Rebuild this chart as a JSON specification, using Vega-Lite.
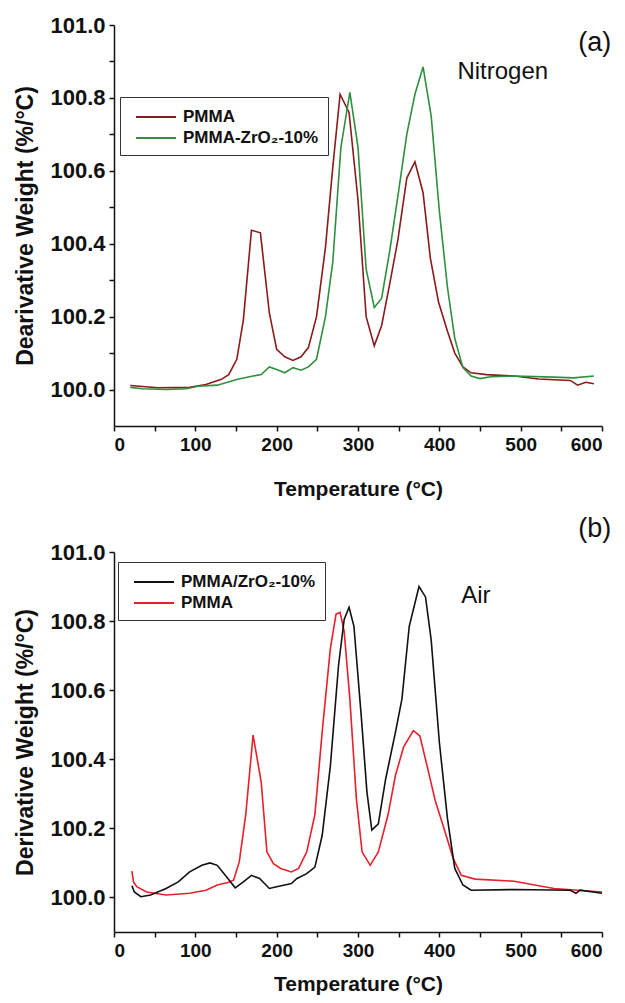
{
  "$schema": "https://vega.github.io/schema/vega-lite/v6.json",
  "padding": {"left": 14, "top": 14, "right": 5, "bottom": 2},
  "background": "white",
  "spacing": 16,
  "resolve": {"scale": {"color": "independent", "font": "independent", "size": "independent"}, "legend": {"color": "independent"}},
  "config": {
    "view": {"stroke": null},
    "font": "Liberation Sans",
    "axis": {"domainColor": "#111", "domainWidth": 1.5, "tickColor": "#111", "tickWidth": 1.5, "tickSize": 5, "labelFont": "Liberation Sans", "labelFontWeight": "bold", "labelFontSize": 19, "labelColor": "#111", "titleFont": "Liberation Sans", "titleFontWeight": "bold", "titleColor": "#111", "grid": false, "labelPadding": 4},
    "axisY": {"labelFontSize": 22},
    "legend": {"title": null, "orient": "none", "strokeColor": "#333", "fillColor": "white", "padding": 9, "symbolType": "M-0.4,0H3.6", "symbolSize": 400, "symbolStrokeWidth": 2, "labelFont": "Liberation Sans", "labelFontSize": 17, "labelFontWeight": "bold", "labelColor": "#111", "rowPadding": 2, "labelOffset": 32}
  },
  "datasets": {
    "a": [
      {"s": "PMMA", "T": 20, "v": 100.011}, {"s": "PMMA", "T": 54, "v": 100.005}, {"s": "PMMA", "T": 93, "v": 100.006}, {"s": "PMMA", "T": 113, "v": 100.014}, {"s": "PMMA", "T": 132, "v": 100.028}, {"s": "PMMA", "T": 141, "v": 100.041}, {"s": "PMMA", "T": 151, "v": 100.083}, {"s": "PMMA", "T": 159, "v": 100.19}, {"s": "PMMA", "T": 169, "v": 100.437}, {"s": "PMMA", "T": 180, "v": 100.43}, {"s": "PMMA", "T": 191, "v": 100.21}, {"s": "PMMA", "T": 200, "v": 100.11}, {"s": "PMMA", "T": 210, "v": 100.09}, {"s": "PMMA", "T": 220, "v": 100.08}, {"s": "PMMA", "T": 230, "v": 100.09}, {"s": "PMMA", "T": 239, "v": 100.115}, {"s": "PMMA", "T": 249, "v": 100.2}, {"s": "PMMA", "T": 260, "v": 100.39}, {"s": "PMMA", "T": 269, "v": 100.61}, {"s": "PMMA", "T": 278, "v": 100.81}, {"s": "PMMA", "T": 289, "v": 100.76}, {"s": "PMMA", "T": 300, "v": 100.52}, {"s": "PMMA", "T": 310, "v": 100.2}, {"s": "PMMA", "T": 320, "v": 100.12}, {"s": "PMMA", "T": 329, "v": 100.175}, {"s": "PMMA", "T": 339, "v": 100.29}, {"s": "PMMA", "T": 349, "v": 100.41}, {"s": "PMMA", "T": 360, "v": 100.58}, {"s": "PMMA", "T": 370, "v": 100.625}, {"s": "PMMA", "T": 380, "v": 100.54}, {"s": "PMMA", "T": 389, "v": 100.36}, {"s": "PMMA", "T": 399, "v": 100.24}, {"s": "PMMA", "T": 410, "v": 100.16}, {"s": "PMMA", "T": 419, "v": 100.1}, {"s": "PMMA", "T": 429, "v": 100.062}, {"s": "PMMA", "T": 439, "v": 100.046}, {"s": "PMMA", "T": 458, "v": 100.041}, {"s": "PMMA", "T": 492, "v": 100.037}, {"s": "PMMA", "T": 522, "v": 100.029}, {"s": "PMMA", "T": 561, "v": 100.025}, {"s": "PMMA", "T": 570, "v": 100.012}, {"s": "PMMA", "T": 580, "v": 100.02}, {"s": "PMMA", "T": 590, "v": 100.016},
      {"s": "PMMA-ZrO₂-10%", "T": 20, "v": 100.006}, {"s": "PMMA-ZrO₂-10%", "T": 35, "v": 100.002}, {"s": "PMMA-ZrO₂-10%", "T": 64, "v": 100.0}, {"s": "PMMA-ZrO₂-10%", "T": 89, "v": 100.002}, {"s": "PMMA-ZrO₂-10%", "T": 103, "v": 100.009}, {"s": "PMMA-ZrO₂-10%", "T": 127, "v": 100.012}, {"s": "PMMA-ZrO₂-10%", "T": 152, "v": 100.028}, {"s": "PMMA-ZrO₂-10%", "T": 171, "v": 100.037}, {"s": "PMMA-ZrO₂-10%", "T": 181, "v": 100.041}, {"s": "PMMA-ZrO₂-10%", "T": 191, "v": 100.062}, {"s": "PMMA-ZrO₂-10%", "T": 200, "v": 100.055}, {"s": "PMMA-ZrO₂-10%", "T": 210, "v": 100.046}, {"s": "PMMA-ZrO₂-10%", "T": 220, "v": 100.06}, {"s": "PMMA-ZrO₂-10%", "T": 230, "v": 100.053}, {"s": "PMMA-ZrO₂-10%", "T": 239, "v": 100.062}, {"s": "PMMA-ZrO₂-10%", "T": 249, "v": 100.083}, {"s": "PMMA-ZrO₂-10%", "T": 260, "v": 100.2}, {"s": "PMMA-ZrO₂-10%", "T": 269, "v": 100.35}, {"s": "PMMA-ZrO₂-10%", "T": 279, "v": 100.665}, {"s": "PMMA-ZrO₂-10%", "T": 290, "v": 100.815}, {"s": "PMMA-ZrO₂-10%", "T": 300, "v": 100.665}, {"s": "PMMA-ZrO₂-10%", "T": 310, "v": 100.33}, {"s": "PMMA-ZrO₂-10%", "T": 320, "v": 100.225}, {"s": "PMMA-ZrO₂-10%", "T": 329, "v": 100.25}, {"s": "PMMA-ZrO₂-10%", "T": 339, "v": 100.38}, {"s": "PMMA-ZrO₂-10%", "T": 349, "v": 100.53}, {"s": "PMMA-ZrO₂-10%", "T": 360, "v": 100.7}, {"s": "PMMA-ZrO₂-10%", "T": 370, "v": 100.81}, {"s": "PMMA-ZrO₂-10%", "T": 380, "v": 100.885}, {"s": "PMMA-ZrO₂-10%", "T": 390, "v": 100.75}, {"s": "PMMA-ZrO₂-10%", "T": 400, "v": 100.49}, {"s": "PMMA-ZrO₂-10%", "T": 410, "v": 100.28}, {"s": "PMMA-ZrO₂-10%", "T": 419, "v": 100.14}, {"s": "PMMA-ZrO₂-10%", "T": 429, "v": 100.06}, {"s": "PMMA-ZrO₂-10%", "T": 439, "v": 100.037}, {"s": "PMMA-ZrO₂-10%", "T": 450, "v": 100.03}, {"s": "PMMA-ZrO₂-10%", "T": 463, "v": 100.035}, {"s": "PMMA-ZrO₂-10%", "T": 492, "v": 100.037}, {"s": "PMMA-ZrO₂-10%", "T": 541, "v": 100.034}, {"s": "PMMA-ZrO₂-10%", "T": 565, "v": 100.032}, {"s": "PMMA-ZrO₂-10%", "T": 590, "v": 100.037}
    ],
    "b": [
      {"s": "PMMA", "T": 22, "v": 100.076}, {"s": "PMMA", "T": 24, "v": 100.045}, {"s": "PMMA", "T": 28, "v": 100.031}, {"s": "PMMA", "T": 40, "v": 100.016}, {"s": "PMMA", "T": 64, "v": 100.007}, {"s": "PMMA", "T": 93, "v": 100.012}, {"s": "PMMA", "T": 113, "v": 100.021}, {"s": "PMMA", "T": 127, "v": 100.036}, {"s": "PMMA", "T": 140, "v": 100.043}, {"s": "PMMA", "T": 147, "v": 100.05}, {"s": "PMMA", "T": 154, "v": 100.103}, {"s": "PMMA", "T": 162, "v": 100.24}, {"s": "PMMA", "T": 171, "v": 100.47}, {"s": "PMMA", "T": 181, "v": 100.334}, {"s": "PMMA", "T": 188, "v": 100.132}, {"s": "PMMA", "T": 196, "v": 100.098}, {"s": "PMMA", "T": 205, "v": 100.084}, {"s": "PMMA", "T": 218, "v": 100.074}, {"s": "PMMA", "T": 227, "v": 100.084}, {"s": "PMMA", "T": 237, "v": 100.132}, {"s": "PMMA", "T": 247, "v": 100.24}, {"s": "PMMA", "T": 256, "v": 100.48}, {"s": "PMMA", "T": 266, "v": 100.72}, {"s": "PMMA", "T": 273, "v": 100.82}, {"s": "PMMA", "T": 278, "v": 100.825}, {"s": "PMMA", "T": 283, "v": 100.77}, {"s": "PMMA", "T": 290, "v": 100.574}, {"s": "PMMA", "T": 298, "v": 100.286}, {"s": "PMMA", "T": 305, "v": 100.132}, {"s": "PMMA", "T": 315, "v": 100.093}, {"s": "PMMA", "T": 325, "v": 100.132}, {"s": "PMMA", "T": 337, "v": 100.24}, {"s": "PMMA", "T": 346, "v": 100.353}, {"s": "PMMA", "T": 356, "v": 100.435}, {"s": "PMMA", "T": 368, "v": 100.483}, {"s": "PMMA", "T": 376, "v": 100.468}, {"s": "PMMA", "T": 385, "v": 100.38}, {"s": "PMMA", "T": 395, "v": 100.28}, {"s": "PMMA", "T": 407, "v": 100.19}, {"s": "PMMA", "T": 417, "v": 100.113}, {"s": "PMMA", "T": 427, "v": 100.064}, {"s": "PMMA", "T": 444, "v": 100.053}, {"s": "PMMA", "T": 492, "v": 100.047}, {"s": "PMMA", "T": 541, "v": 100.026}, {"s": "PMMA", "T": 600, "v": 100.016},
      {"s": "PMMA/ZrO₂-10%", "T": 22, "v": 100.034}, {"s": "PMMA/ZrO₂-10%", "T": 25, "v": 100.016}, {"s": "PMMA/ZrO₂-10%", "T": 33, "v": 100.002}, {"s": "PMMA/ZrO₂-10%", "T": 45, "v": 100.007}, {"s": "PMMA/ZrO₂-10%", "T": 64, "v": 100.026}, {"s": "PMMA/ZrO₂-10%", "T": 79, "v": 100.045}, {"s": "PMMA/ZrO₂-10%", "T": 93, "v": 100.074}, {"s": "PMMA/ZrO₂-10%", "T": 108, "v": 100.093}, {"s": "PMMA/ZrO₂-10%", "T": 118, "v": 100.1}, {"s": "PMMA/ZrO₂-10%", "T": 127, "v": 100.093}, {"s": "PMMA/ZrO₂-10%", "T": 140, "v": 100.055}, {"s": "PMMA/ZrO₂-10%", "T": 149, "v": 100.028}, {"s": "PMMA/ZrO₂-10%", "T": 159, "v": 100.045}, {"s": "PMMA/ZrO₂-10%", "T": 169, "v": 100.064}, {"s": "PMMA/ZrO₂-10%", "T": 179, "v": 100.055}, {"s": "PMMA/ZrO₂-10%", "T": 191, "v": 100.026}, {"s": "PMMA/ZrO₂-10%", "T": 200, "v": 100.031}, {"s": "PMMA/ZrO₂-10%", "T": 210, "v": 100.036}, {"s": "PMMA/ZrO₂-10%", "T": 218, "v": 100.04}, {"s": "PMMA/ZrO₂-10%", "T": 225, "v": 100.055}, {"s": "PMMA/ZrO₂-10%", "T": 237, "v": 100.069}, {"s": "PMMA/ZrO₂-10%", "T": 247, "v": 100.088}, {"s": "PMMA/ZrO₂-10%", "T": 256, "v": 100.18}, {"s": "PMMA/ZrO₂-10%", "T": 266, "v": 100.38}, {"s": "PMMA/ZrO₂-10%", "T": 276, "v": 100.67}, {"s": "PMMA/ZrO₂-10%", "T": 283, "v": 100.805}, {"s": "PMMA/ZrO₂-10%", "T": 289, "v": 100.84}, {"s": "PMMA/ZrO₂-10%", "T": 295, "v": 100.785}, {"s": "PMMA/ZrO₂-10%", "T": 304, "v": 100.525}, {"s": "PMMA/ZrO₂-10%", "T": 311, "v": 100.305}, {"s": "PMMA/ZrO₂-10%", "T": 317, "v": 100.195}, {"s": "PMMA/ZrO₂-10%", "T": 325, "v": 100.213}, {"s": "PMMA/ZrO₂-10%", "T": 334, "v": 100.343}, {"s": "PMMA/ZrO₂-10%", "T": 346, "v": 100.478}, {"s": "PMMA/ZrO₂-10%", "T": 354, "v": 100.574}, {"s": "PMMA/ZrO₂-10%", "T": 363, "v": 100.785}, {"s": "PMMA/ZrO₂-10%", "T": 375, "v": 100.9}, {"s": "PMMA/ZrO₂-10%", "T": 383, "v": 100.87}, {"s": "PMMA/ZrO₂-10%", "T": 390, "v": 100.745}, {"s": "PMMA/ZrO₂-10%", "T": 400, "v": 100.45}, {"s": "PMMA/ZrO₂-10%", "T": 410, "v": 100.228}, {"s": "PMMA/ZrO₂-10%", "T": 419, "v": 100.084}, {"s": "PMMA/ZrO₂-10%", "T": 429, "v": 100.036}, {"s": "PMMA/ZrO₂-10%", "T": 439, "v": 100.021}, {"s": "PMMA/ZrO₂-10%", "T": 492, "v": 100.023}, {"s": "PMMA/ZrO₂-10%", "T": 561, "v": 100.021}, {"s": "PMMA/ZrO₂-10%", "T": 568, "v": 100.012}, {"s": "PMMA/ZrO₂-10%", "T": 573, "v": 100.021}, {"s": "PMMA/ZrO₂-10%", "T": 600, "v": 100.012}
    ],
    "ta": [{"label": "Nitrogen", "T": 478, "v": 100.871, "f": "sans"}, {"label": "(a)", "T": 591, "v": 100.95, "f": "serif"}],
    "tb": [{"label": "Air", "T": 445, "v": 100.873, "f": "sans"}, {"label": "(b)", "T": 591, "v": 101.066, "f": "serif"}]
  },
  "vconcat": [
    {
      "width": 488,
      "height": 401,
      "layer": [
        {
          "data": {"name": "a"},
          "mark": {"type": "line", "strokeWidth": 1.6},
          "encoding": {
            "x": {"field": "T", "type": "quantitative", "scale": {"domain": [0, 600]}, "axis": {"values": [0, 50, 100, 150, 200, 250, 300, 350, 400, 450, 500, 550, 600], "labelExpr": "datum.value % 100 == 0 ? datum.label : ''", "title": "Temperature (°C)", "titleFontSize": 21, "titlePadding": 24}},
            "y": {"field": "v", "type": "quantitative", "scale": {"domain": [99.9, 101.0], "zero": false}, "axis": {"values": [100.0, 100.1, 100.2, 100.3, 100.4, 100.5, 100.6, 100.7, 100.8, 100.9, 101.0], "labelExpr": "round(datum.value*10) % 2 == 0 ? format(datum.value, '.1f') : ''", "title": "Dearivative Weight (%/°C)", "titleFontSize": 23, "titlePadding": 12}},
            "color": {"field": "s", "type": "nominal", "scale": {"domain": ["PMMA", "PMMA-ZrO₂-10%"], "range": ["#8b1a1a", "#2f8f3f"]}, "legend": {"legendX": 6, "legendY": 72}}
          }
        },
        {
          "data": {"name": "ta"},
          "mark": {"type": "text", "align": "center", "baseline": "middle", "color": "#111"},
          "encoding": {
            "x": {"field": "T", "type": "quantitative"},
            "y": {"field": "v", "type": "quantitative"},
            "text": {"field": "label"},
            "font": {"field": "f", "type": "nominal", "scale": {"domain": ["sans", "serif"], "range": ["Liberation Sans", "Liberation Serif"]}, "legend": null},
            "size": {"field": "f", "type": "nominal", "scale": {"domain": ["sans", "serif"], "range": [24, 27]}, "legend": null}
          }
        }
      ]
    },
    {
      "width": 488,
      "height": 380,
      "layer": [
        {
          "data": {"name": "b"},
          "mark": {"type": "line", "strokeWidth": 1.6},
          "encoding": {
            "x": {"field": "T", "type": "quantitative", "scale": {"domain": [0, 600]}, "axis": {"values": [0, 50, 100, 150, 200, 250, 300, 350, 400, 450, 500, 550, 600], "labelExpr": "datum.value % 100 == 0 ? datum.label : ''", "title": "Temperature (°C)", "titleFontSize": 21, "titlePadding": 13}},
            "y": {"field": "v", "type": "quantitative", "scale": {"domain": [99.9, 101.0], "zero": false}, "axis": {"values": [100.0, 100.1, 100.2, 100.3, 100.4, 100.5, 100.6, 100.7, 100.8, 100.9, 101.0], "labelExpr": "round(datum.value*10) % 2 == 0 ? format(datum.value, '.1f') : ''", "title": "Derivative Weight (%/°C)", "titleFontSize": 23, "titlePadding": 12}},
            "color": {"field": "s", "type": "nominal", "scale": {"domain": ["PMMA/ZrO₂-10%", "PMMA"], "range": ["#111111", "#e8202a"]}, "legend": {"legendX": 4, "legendY": 10}}
          }
        },
        {
          "data": {"name": "tb"},
          "mark": {"type": "text", "align": "center", "baseline": "middle", "color": "#111"},
          "encoding": {
            "x": {"field": "T", "type": "quantitative"},
            "y": {"field": "v", "type": "quantitative"},
            "text": {"field": "label"},
            "font": {"field": "f", "type": "nominal", "scale": {"domain": ["sans", "serif"], "range": ["Liberation Sans", "Liberation Serif"]}, "legend": null},
            "size": {"field": "f", "type": "nominal", "scale": {"domain": ["sans", "serif"], "range": [24, 27]}, "legend": null}
          }
        }
      ]
    }
  ]
}
